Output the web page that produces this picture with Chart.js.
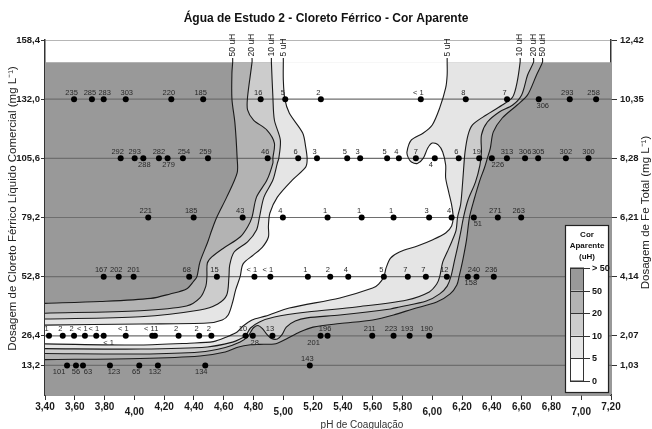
<!DOCTYPE html>
<html lang="pt-BR">
<head>
<meta charset="utf-8">
<title>Água de Estudo 2 - Cloreto Férrico - Cor Aparente</title>
<script src="https://cdn.jsdelivr.net/npm/chart.js@4/dist/chart.umd.min.js"></script>
<style>
  html, body { margin: 0; padding: 0; background: #ffffff; }
  canvas { display: block; }
</style>
</head>
<body>
<canvas id="grafico" width="652" height="429"></canvas>
<script>
// ---- Eixos -------------------------------------------------------------
const phTicks = [3.40, 3.60, 3.80, 4.00, 4.20, 4.40, 4.60, 4.80, 5.00, 5.20,
                 5.40, 5.60, 5.80, 6.00, 6.20, 6.40, 6.60, 6.80, 7.00, 7.20];
const doseTicks = [13.2, 26.4, 52.8, 79.2, 105.6, 132.0, 158.4];
const feTickLabels = ['1,03', '2,07', '4,14', '6,21', '8,28', '10,35', '12,42'];
const keyLevels = ['> 50', '50', '20', '10', '5', '0'];

// Topo do campo interpolado e ponto onde as isolinhas terminam (rótulos)
const fieldTop = 148.5;
const lineTop = 150.4;

// ---- Ensaios: pH de coagulação e cor aparente (uH) por dosagem --------
const pH132 = [3.595, 3.715, 3.794, 3.942, 4.248, 4.462, 4.848, 5.013, 5.252, 5.923, 6.225, 6.502, 6.715, 6.923, 7.100];
const cor132 = ['235', '285', '283', '303', '220', '185', '16', '5', '2', '< 1', '8', '7', '306', '293', '258'];

const pH105 = [3.908, 4.002, 4.060, 4.165, 4.223, 4.326, 4.494, 4.895, 5.100, 5.226, 5.429, 5.516,
               5.697, 5.776, 5.890, 6.017, 6.178, 6.315, 6.400, 6.501, 6.623, 6.711, 6.897, 7.049];
const cor105 = ['292', '293', '288', '282', '279', '254', '259', '46', '6', '3', '5', '3',
                '5', '4', '7', '4', '6', '19', '226', '313', '306', '305', '302', '300'];

const pH79 = [4.093, 4.398, 4.727, 4.997, 5.297, 5.526, 5.740, 5.979, 6.130, 6.279, 6.440, 6.597];
const cor79 = ['221', '185', '43', '4', '1', '1', '1', '3', '4', '51', '271', '263'];

const pH53 = [3.794, 3.895, 3.995, 4.368, 4.554, 4.806, 4.913, 5.165, 5.315, 5.436, 5.675, 5.836,
              5.957, 6.098, 6.239, 6.297, 6.413];
const cor53 = ['167', '202', '201', '68', '15', '< 1', '< 1', '1', '2', '4', '5', '7',
               '7', '12', '158', '240', '236'];

const pH26 = [3.427, 3.519, 3.595, 3.668, 3.744, 3.794, 3.942, 4.120, 4.138, 4.297, 4.435, 4.517,
              4.746, 4.795, 4.927, 5.250, 5.297, 5.597, 5.740, 5.848, 5.979];
const cor26 = ['1', '2', '2', '< 1', '< 1', '< 1', '< 1', '< 1', '1', '2', '2', '2',
               '10', '28', '13', '201', '196', '211', '223', '193', '190'];

const pH13 = [3.548, 3.608, 3.655, 3.836, 4.033, 4.158, 4.476, 5.178];
const cor13 = ['101', '56', '63', '123', '65', '132', '134', '143'];

// ---- Isolinhas de cor aparente, pares [pH, dosagem] --------------------
// "L": ramo que desce pelo lado ácido; "R": ramo que desce pelo lado básico
// e volta pela faixa de baixa dosagem até pH 3,40.
const iso5L = [[5.00,148.5],[5.00,140.6],[5.01,132.1],[5.04,125.8],[5.13,116.9],[5.15,110.7],[5.16,105.3],
  [5.15,101.7],[5.06,95.9],[4.96,88.3],[4.91,81.2],[4.90,75.4],[4.90,70.5],[4.86,66.0],[4.80,62.5],
  [4.73,58.5],[4.71,52.8],[4.68,46.9],[4.66,41.5],[4.63,35.7],[4.59,33.5],[4.49,32.1],[4.04,31.7],[3.40,31.2]];
const iso5R = [[6.10,148.5],[6.10,142.8],[6.09,137.0],[6.05,128.1],[6.00,120.5],[5.94,116.9],[5.86,113.8],
  [5.83,108.4],[5.84,105.7],[5.86,104.0],[5.90,103.3],[5.94,105.7],[5.97,110.2],[6.00,112.4],[6.04,111.6],
  [6.07,108.4],[6.09,102.6],[6.09,96.8],[6.11,90.6],[6.13,84.8],[6.14,79.4],[6.13,75.4],[6.09,72.3],
  [6.00,69.2],[5.90,66.5],[5.78,63.8],[5.72,61.1],[5.69,56.7],[5.675,52.8],[5.64,49.5],[5.60,47.7],
  [5.38,43.3],[5.04,38.8],[4.88,35.2],[4.79,33.5],[4.73,30.8],[4.69,28.1],[4.62,25.9],[4.53,23.8],
  [4.37,23.1],[4.04,22.3],[3.40,22.8]];

const iso10L = [[4.92,148.5],[4.93,133.0],[4.94,122.7],[4.98,113.8],[4.97,105.7],[4.96,103.5],[4.93,95.9],
  [4.87,88.3],[4.84,79.4],[4.82,73.6],[4.76,68.3],[4.67,63.8],[4.64,58.0],[4.635,52.8],[4.62,44.6],
  [4.56,40.6],[4.44,37.9],[4.04,34.9],[3.40,33.9]];
const iso10R = [[6.59,148.5],[6.57,139.7],[6.54,133.0],[6.47,129.4],[6.34,124.0],[6.27,120.5],[6.24,116.0],
  [6.22,108.4],[6.21,100.4],[6.20,91.5],[6.19,84.8],[6.17,79.4],[6.16,73.6],[6.13,68.3],[6.10,63.8],
  [6.07,59.3],[6.05,52.8],[6.03,49.5],[5.98,46.0],[5.83,42.4],[5.49,39.3],[5.16,37.0],[4.94,34.8],
  [4.84,32.6],[4.78,29.9],[4.746,26.4],[4.71,25.0],[4.66,23.6],[4.49,21.4],[4.04,20.5],[3.40,20.7]];

const iso20L = [[4.79,148.5],[4.76,133.0],[4.76,127.2],[4.80,122.7],[4.89,118.2],[4.94,112.4],[4.93,105.7],
  [4.93,103.5],[4.89,95.9],[4.82,88.3],[4.79,79.4],[4.76,75.0],[4.71,70.5],[4.60,65.6],[4.52,61.6],
  [4.49,58.9],[4.487,52.8],[4.48,48.6],[4.44,43.3],[4.35,39.7],[4.04,37.6],[3.40,36.5]];
const iso20R = [[6.68,148.5],[6.64,142.8],[6.60,133.9],[6.54,129.4],[6.45,126.3],[6.37,121.8],[6.33,116.0],
  [6.33,108.4],[6.32,102.6],[6.29,95.0],[6.24,87.0],[6.21,79.4],[6.19,72.3],[6.17,66.0],[6.15,60.2],
  [6.125,52.8],[6.10,48.6],[6.05,45.1],[5.96,41.9],[5.78,39.3],[5.72,38.4],[5.38,35.7],[5.16,34.4],
  [5.08,33.0],[5.02,30.3],[4.99,26.8],[4.96,25.0],[4.92,25.2],[4.89,27.0],[4.86,29.6],[4.83,31.0],
  [4.80,30.0],[4.78,28.0],[4.76,25.9],[4.71,23.6],[4.61,21.2],[4.44,19.2],[4.04,18.3],[3.40,18.5]];

const iso50L = [[4.66,148.5],[4.655,143.7],[4.655,132.1],[4.675,121.4],[4.69,105.7],[4.69,99.1],[4.62,88.3],
  [4.554,79.4],[4.52,73.6],[4.49,67.8],[4.44,59.3],[4.42,52.8],[4.40,50.9],[4.35,47.3],[4.24,45.1],
  [4.11,43.1],[3.77,41.7],[3.40,40.9]];
const iso50R = [[6.74,148.5],[6.70,142.8],[6.64,133.9],[6.57,129.4],[6.47,123.6],[6.41,117.4],[6.39,110.2],
  [6.37,105.7],[6.35,101.3],[6.32,95.9],[6.28,87.0],[6.25,79.4],[6.23,69.2],[6.205,60.2],[6.18,52.8],
  [6.165,49.1],[6.12,45.1],[6.03,41.5],[5.87,38.4],[5.74,35.7],[5.60,33.5],[5.38,31.9],[5.20,30.3],
  [5.11,28.1],[5.02,25.0],[4.95,22.9],[4.84,22.6],[4.78,22.4],[4.70,21.4],[4.61,19.2],[4.44,17.4],
  [4.04,16.3],[3.40,15.8]];

// ---- Aparência -----------------------------------------------------------
const shade = {
  over50: '#999999',
  from20to50: '#b3b3b3',
  from10to20: '#cccccc',
  from5to10: '#e5e5e5',
  under5: '#ffffff'
};
const NARROW = '"Liberation Sans Narrow", "Liberation Sans", Arial, sans-serif';
const SANS = '"Liberation Sans", Arial, sans-serif';
const TENSION = 0.3;

// Posição dos rótulos de cor: índices abaixo do ponto e deslocamentos (px)
const rows = [
  { dose: doseTicks[5], pH: pH132, cor: cor132, below: [12], dx: { 1: -2, 2: 1, 3: 1, 12: 4 } },
  { dose: doseTicks[4], pH: pH105, cor: cor105, below: [2, 4, 15, 18],
    dx: { 0: -3, 1: 0, 2: 1, 3: 0, 4: 1, 5: 1, 14: 0, 15: -4, 18: 6, 19: 0, 20: 0, 21: 0, 22: 0, 23: 0 } },
  { dose: doseTicks[3], pH: pH79, cor: cor79, below: [9], dx: { 9: 4 } },
  { dose: doseTicks[2], pH: pH53, cor: cor53, below: [14], dx: { 2: 0, 14: 3 } },
  { dose: doseTicks[1], pH: pH26, cor: cor26, below: [5, 13, 15], dx: { 5: 5, 7: -3, 8: 1.5, 13: 2, 15: -7 } },
  { dose: doseTicks[0], pH: pH13, cor: cor13, below: [0, 1, 2, 3, 4, 5, 6], dx: { 0: -8, 1: 0, 2: 5, 3: 4, 4: -3, 5: -3, 6: -4 } }
];

// ---- Montagem dos conjuntos ---------------------------------------------
const xy = pts => pts.map(p => ({ x: p[0], y: p[1] }));

// Região interna a uma isolinha: ramo L, borda esquerda, ramo R invertido
function region(left, right) {
  const a = left.concat([left[left.length - 1]]);
  const b = right.concat([right[right.length - 1]]).reverse();
  return xy(a.concat(b));
}

const fieldRect = [[phTicks[0], 0], [phTicks[phTicks.length - 1], 0],
                   [phTicks[phTicks.length - 1], fieldTop], [phTicks[0], fieldTop]];

const fillSet = (data, color, order, tension) => ({
  data, showLine: true, fill: 'shape', backgroundColor: color,
  borderColor: 'rgba(0,0,0,0)', borderWidth: 0, pointRadius: 0, pointHoverRadius: 0,
  tension, order
});

const lineSet = (pts, label) => ({
  data: xy([[pts[0][0], lineTop]].concat(pts)),
  showLine: true, fill: false, borderColor: '#1a1a1a', borderWidth: 1.1,
  pointRadius: 0, pointHoverRadius: 0, tension: TENSION, order: 20, levelLabel: label
});

const datasets = [
  fillSet(xy(fieldRect), shade.over50, 105, 0),
  fillSet(region(iso50L, iso50R), shade.from20to50, 104, TENSION),
  fillSet(region(iso20L, iso20R), shade.from10to20, 103, TENSION),
  fillSet(region(iso10L, iso10R), shade.from5to10, 102, TENSION),
  fillSet(region(iso5L, iso5R), shade.under5, 101, TENSION)
];

// linhas das dosagens ensaiadas
doseTicks.forEach(d => datasets.push({
  data: xy([[phTicks[0], d], [phTicks[phTicks.length - 1], d]]),
  showLine: true, fill: false, borderColor: '#6e6e6e', borderWidth: 1.2,
  pointRadius: 0, pointHoverRadius: 0, order: 50
}));

[[iso50L, '50 uH'], [iso20L, '20 uH'], [iso10L, '10 uH'], [iso5L, '5 uH'],
 [iso5R, '5 uH'], [iso10R, '10 uH'], [iso20R, '20 uH'], [iso50R, '50 uH']]
  .forEach(([pts, label]) => datasets.push(lineSet(pts, label)));

rows.forEach(r => datasets.push({
  data: r.pH.map(p => ({ x: p, y: r.dose })),
  showLine: false, pointRadius: 3, pointHoverRadius: 3,
  pointBackgroundColor: '#000', pointBorderColor: '#000', pointBorderWidth: 0,
  order: 0, valueLabels: r.cor, below: r.below, dx: r.dx
}));

// ---- Plugins de texto -------------------------------------------------------
const textLabels = {
  id: 'textLabels',
  afterDatasetsDraw(chart) {
    const ctx = chart.ctx;
    ctx.save();
    chart.data.datasets.forEach((ds, i) => {
      const meta = chart.getDatasetMeta(i);
      if (ds.valueLabels) {
        ctx.font = '7.5px ' + SANS;
        ctx.fillStyle = '#2a2a2a';
        ctx.textAlign = 'center';
        meta.data.forEach((pt, j) => {
          const isBelow = ds.below.includes(j);
          const shift = (j in ds.dx) ? ds.dx[j] : (isBelow ? 0 : -2.5);
          ctx.textBaseline = isBelow ? 'top' : 'alphabetic';
          ctx.fillText(ds.valueLabels[j], pt.x + shift, isBelow ? pt.y + 3 : pt.y - 4.5);
        });
      }
      if (ds.levelLabel) {
        const p = meta.data[0];
        ctx.save();
        ctx.font = '8.5px ' + SANS;
        ctx.fillStyle = '#1a1a1a';
        ctx.translate(p.x, p.y - 1.5);
        ctx.rotate(-Math.PI / 2);
        ctx.textAlign = 'left';
        ctx.textBaseline = 'middle';
        ctx.fillText(ds.levelLabel, 0, 0);
        ctx.restore();
      }
    });
    ctx.restore();
  }
};

const colorKey = {
  id: 'colorKey',
  afterDatasetsDraw(chart) {
    const { ctx, chartArea: a } = chart;
    const left = a.right - 46, right = a.right - 2, top = a.top + 185, bottom = a.bottom - 2;
    ctx.save();
    ctx.fillStyle = '#ffffff';
    ctx.fillRect(left, top, right - left, bottom - top);
    ctx.strokeStyle = '#222';
    ctx.lineWidth = 1.2;
    ctx.strokeRect(left + 0.5, top + 0.5, right - left - 1, bottom - top - 1);

    ctx.fillStyle = '#111';
    ctx.textAlign = 'center';
    ctx.textBaseline = 'middle';
    ctx.font = 'bold 8px ' + NARROW;
    ['Cor', 'Aparente', '(uH)'].forEach((t, i) => ctx.fillText(t, (left + right) / 2, top + 10 + i * 11));

    const barL = left + 5, barW = 13, y0 = top + 43, step = 22.6;
    [shade.over50, shade.from20to50, shade.from10to20, shade.from5to10, shade.under5]
      .forEach((c, i) => { ctx.fillStyle = c; ctx.fillRect(barL, y0 + i * step, barW, step); });
    ctx.strokeStyle = '#333';
    ctx.lineWidth = 1;
    ctx.strokeRect(barL + 0.5, y0, barW, 5 * step);

    ctx.font = 'bold 9px ' + NARROW;
    ctx.textAlign = 'left';
    ctx.fillStyle = '#111';
    keyLevels.forEach((t, i) => {
      const y = Math.round(y0 + i * step) + 0.5;
      ctx.beginPath();
      ctx.moveTo(barL, y);
      ctx.lineTo(barL + barW + 7, y);
      ctx.stroke();
      ctx.fillText(t, barL + barW + 9, y);
    });
    ctx.restore();
  }
};

const axisTitles = {
  id: 'axisTitles',
  afterDraw(chart) {
    const { ctx, chartArea: a } = chart;
    const midY = (a.top + a.bottom) / 2;
    ctx.save();
    ctx.fillStyle = '#222';
    ctx.textAlign = 'center';
    ctx.textBaseline = 'middle';
    ctx.font = '11.5px ' + SANS;

    ctx.save();
    ctx.translate(13, midY - 9);
    ctx.rotate(-Math.PI / 2);
    ctx.fillText('Dosagem de Cloreto Férrico Líquido Comercial (mg L\u207B\u00B9)', 0, 0);
    ctx.restore();

    ctx.save();
    ctx.translate(chart.width - 6, midY - 5);
    ctx.rotate(-Math.PI / 2);
    ctx.fillText('Dosagem de Fe Total (mg L\u207B\u00B9)', 0, 0);
    ctx.restore();

    ctx.font = '10px ' + SANS;
    ctx.fillStyle = '#333';
    ctx.fillText('pH de Coagulação', (a.left + a.right) / 2 + 34, chart.height - 4);
    ctx.restore();
  }
};

// ---- Gráfico -----------------------------------------------------------------
const isWhole = v => Math.abs(v - Math.round(v)) < 1e-6;

new Chart(document.getElementById('grafico'), {
  type: 'scatter',
  data: { datasets },
  options: {
    responsive: false,
    devicePixelRatio: 1,
    animation: false,
    events: [],
    layout: { padding: 0 },
    plugins: {
      legend: { display: false },
      tooltip: { enabled: false },
      title: {
        display: true,
        text: 'Água de Estudo 2 - Cloreto Férrico - Cor Aparente',
        color: '#111',
        font: { family: SANS, size: 12, weight: 'bold', lineHeight: 1.2 },
        padding: { top: 11, bottom: 14.6 }
      }
    },
    scales: {
      x: {
        type: 'linear',
        min: phTicks[0],
        max: phTicks[phTicks.length - 1],
        afterBuildTicks: s => { s.ticks = phTicks.map(v => ({ value: v })); },
        afterFit: s => { s.height = 34; },
        grid: { drawOnChartArea: false, drawTicks: true, tickLength: 5, color: '#333' },
        border: { display: true, color: '#333', width: 1.5 },
        ticks: {
          autoSkip: false, maxRotation: 0, padding: 1, color: '#1a1a1a',
          callback: v => v.toFixed(2).replace('.', ','),
          font: c => ({ family: NARROW, size: 10, weight: 'bold',
                        lineHeight: (c.tick && isWhole(c.tick.value)) ? 2.2 : 1.2 })
        }
      },
      y: {
        type: 'linear',
        position: 'left',
        min: 0,
        max: doseTicks[doseTicks.length - 1],
        afterBuildTicks: s => { s.ticks = doseTicks.map(v => ({ value: v })); },
        afterFit: s => { s.width = 45; },
        grid: { drawOnChartArea: false, drawTicks: true, tickLength: 4, color: '#333' },
        border: { display: true, color: '#333', width: 1.5 },
        ticks: {
          padding: 1, color: '#1a1a1a',
          callback: v => v.toFixed(1).replace('.', ','),
          font: { family: NARROW, size: 9.5, weight: 'bold' }
        }
      },
      y2: {
        type: 'linear',
        position: 'right',
        min: 0,
        max: doseTicks[doseTicks.length - 1],
        afterBuildTicks: s => { s.ticks = doseTicks.map(v => ({ value: v })); },
        afterFit: s => { s.width = 41; },
        grid: { drawOnChartArea: false, drawTicks: true, tickLength: 6, color: '#333' },
        border: { display: true, color: '#333', width: 1.5 },
        ticks: {
          padding: 3, color: '#1a1a1a',
          callback: (v, i) => feTickLabels[i],
          font: { family: NARROW, size: 9.5, weight: 'bold' }
        }
      }
    }
  },
  plugins: [textLabels, colorKey, axisTitles]
});
</script>
</body>
</html>
